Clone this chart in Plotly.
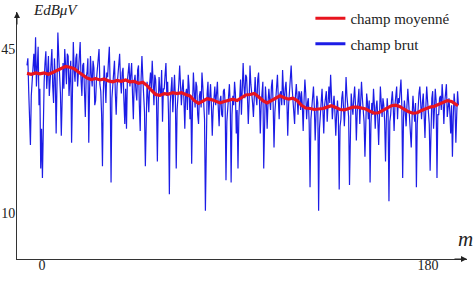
import plotly.graph_objects as go

# ---- data ----
m_start = -7.0
m_step = 0.4
champ_brut = [
    41.5, 43.0, 36.0, 30.5, 24.5, 35.0, 38.0, 41.0, 44.0, 39.5, 47.5, 37.0, 42.0, 45.5, 33.0, 36.5, 19.5, 28.0, 17.5, 34.0,
    38.0, 42.0, 44.5, 36.5, 40.0, 43.5, 35.0, 39.0, 42.5, 45.0, 37.0, 33.5, 43.0, 38.5, 27.0, 41.0, 48.5, 43.5, 40.0, 35.5,
    26.5, 39.0, 42.0, 36.5, 45.0, 41.5, 37.5, 44.0, 43.5, 35.0, 39.0, 42.5, 25.0, 38.0, 46.5, 40.5, 38.0, 43.0, 44.0, 37.0,
    41.0, 44.0, 46.5, 38.5, 35.0, 41.5, 42.0, 36.0, 30.5, 39.0, 40.0, 43.0, 25.0, 36.5, 43.5, 39.5, 37.0, 42.5, 41.0, 33.0,
    34.0, 38.5, 40.5, 43.0, 45.0, 37.5, 36.0, 31.0, 20.0, 35.5, 41.5, 38.0, 33.5, 40.0, 39.0, 42.5, 45.5, 37.0, 16.5, 34.5,
    38.0, 41.0, 42.5, 35.5, 31.0, 37.0, 39.5, 42.0, 44.0, 38.5, 35.5, 40.0, 41.0, 34.0, 29.0, 36.5, 28.0, 38.0, 40.5, 42.0,
    37.0, 40.0, 42.0, 35.5, 30.0, 38.0, 39.5, 36.0, 34.0, 40.5, 41.5, 33.0, 27.5, 38.5, 43.5, 39.0, 36.0, 31.5, 20.0, 35.0,
    38.0, 35.0, 31.5, 37.5, 40.0, 36.5, 42.5, 38.0, 33.0, 39.5, 38.5, 34.0, 21.0, 33.5, 39.0, 36.0, 35.0, 40.5, 29.5, 36.5,
    36.5, 39.5, 42.0, 35.0, 38.0, 31.0, 14.0, 33.5, 37.0, 39.0, 31.5, 36.0, 39.5, 34.5, 19.5, 32.0, 34.0, 37.5, 41.5, 35.0,
    33.0, 36.5, 38.5, 34.0, 28.0, 35.5, 36.5, 32.0, 39.5, 37.0, 30.0, 34.5, 20.5, 33.0, 40.0, 36.0, 32.5, 38.0, 37.0, 31.0,
    29.0, 35.0, 36.0, 32.5, 40.0, 37.0, 33.5, 30.0, 10.5, 31.5, 35.5, 38.0, 31.0, 34.5, 37.5, 33.0, 26.5, 32.0, 34.5, 37.0,
    33.0, 36.0, 38.0, 32.5, 28.5, 34.0, 35.0, 31.0, 30.5, 36.0, 36.5, 33.5, 17.0, 29.5, 32.0, 35.5, 37.5, 33.0, 16.5, 31.0,
    35.0, 33.0, 38.0, 35.5, 27.0, 32.0, 19.5, 30.5, 36.0, 38.5, 31.0, 36.5, 42.0, 37.0, 34.5, 39.5, 39.0, 35.0, 29.0, 34.0,
    41.5, 37.5, 36.0, 33.5, 30.5, 36.5, 39.0, 35.0, 33.0, 38.5, 40.0, 34.5, 27.0, 33.0, 35.5, 38.0, 19.5, 31.0, 37.0, 34.0,
    28.0, 33.5, 36.5, 34.0, 32.0, 37.0, 38.5, 33.0, 24.0, 31.5, 35.0, 37.5, 39.5, 34.5, 30.0, 35.5, 36.0, 33.0, 40.5, 36.0,
    33.0, 36.5, 38.0, 34.0, 26.5, 33.0, 36.0, 38.5, 41.5, 37.0, 34.0, 31.5, 29.0, 35.0, 37.5, 34.5, 31.0, 36.0, 35.5, 32.0,
    36.0, 33.0, 27.5, 34.0, 38.5, 35.5, 30.0, 33.5, 34.5, 29.0, 15.5, 30.0, 33.0, 36.0, 37.0, 32.5, 25.5, 31.0, 35.0, 33.5,
    10.5, 28.0, 31.0, 34.5, 36.5, 32.0, 27.0, 33.0, 34.5, 36.0, 29.5, 34.0, 37.0, 33.5, 39.5, 35.0, 30.0, 33.0, 35.0, 31.5,
    26.5, 31.0, 34.0, 30.5, 15.0, 28.5, 30.0, 34.5, 36.0, 32.5, 28.5, 33.0, 39.0, 35.0, 33.0, 30.5, 16.0, 29.0, 35.5, 33.0,
    31.0, 34.5, 37.0, 33.0, 25.5, 31.5, 34.5, 36.5, 29.0, 33.0, 38.0, 34.5, 32.0, 29.5, 22.0, 31.0, 35.5, 33.5, 30.0, 34.0,
    16.5, 29.0, 33.5, 31.0, 36.5, 33.0, 28.0, 32.5, 34.0, 30.0, 24.5, 31.0, 37.0, 33.5, 30.5, 34.5, 33.0, 29.5, 21.0, 30.0,
    34.5, 31.0, 12.5, 29.5, 31.0, 34.0, 36.0, 32.5, 27.5, 33.0, 35.0, 37.0, 30.0, 34.5, 33.5, 36.0, 38.5, 33.0, 17.5, 30.5,
    34.0, 31.5, 28.5, 33.0, 36.5, 33.5, 31.0, 28.0, 24.0, 30.5, 35.0, 32.0, 29.5, 33.5, 15.5, 29.0, 33.5, 35.5, 37.0, 32.0,
    30.0, 33.5, 35.5, 31.0, 26.0, 32.5, 37.0, 34.0, 32.0, 29.0, 19.0, 30.5, 34.5, 36.0, 28.0, 32.0, 36.5, 34.0, 17.5, 31.0,
    31.0, 34.5, 35.0, 32.0, 37.5, 34.5, 29.0, 33.5, 36.0, 37.5, 30.5, 34.0, 34.5, 31.5, 27.0, 33.0, 22.0, 30.5, 35.5, 33.0,
    25.0, 31.0, 36.0, 33.0,
]
m_brut = [m_start + m_step * i for i in range(len(champ_brut))]

m_moy = [-7, -5, -3, -1, 1, 3, 5, 7, 9, 11, 13, 15, 17, 19, 21, 23, 25, 27, 29, 31,
         33, 35, 37, 39, 41, 43, 45, 47, 49, 51, 53, 55, 57, 59, 61, 63, 65, 67, 69, 71,
         73, 75, 77, 79, 81, 83, 85, 87, 89, 91, 93, 95, 97, 99, 101, 103, 105, 107, 109, 111,
         113, 115, 117, 119, 121, 123, 125, 127, 129, 131, 133, 135, 137, 139, 141, 143, 145, 147, 149, 151,
         153, 155, 157, 159, 161, 163, 165, 167, 169, 171, 173, 175, 177, 179, 181, 183, 185, 187, 189, 191,
         193, 194]
champ_moyenne = [39.8, 39.6, 39.9, 39.7, 39.9, 39.6, 40.0, 40.4, 40.9, 41.3,
                 41.1, 40.8, 40.1, 39.4, 38.8, 38.5, 38.7, 38.4, 38.6, 38.2,
                 38.0, 38.3, 38.1, 38.4, 38.0, 38.1, 37.7, 37.9, 37.2, 36.2,
                 35.3, 35.1, 35.5, 35.4, 35.7, 35.5, 35.7, 35.3, 35.0, 34.0,
                 33.4, 33.9, 34.4, 34.2, 33.8, 33.5, 33.8, 34.1, 34.3, 34.0,
                 34.6, 35.2, 35.3, 35.5, 34.8, 34.0, 33.5, 34.0, 34.6, 35.0,
                 34.6, 34.3, 34.5, 34.0, 33.0, 32.4, 32.3, 32.1, 32.2, 32.3,
                 32.6, 32.9, 32.5, 32.1, 32.0, 32.3, 32.6, 32.6, 32.4, 32.2,
                 31.7, 31.3, 31.4, 31.9, 32.5, 32.9, 33.0, 32.7, 32.1, 31.6,
                 31.3, 31.4, 31.9, 32.3, 32.6, 32.8, 33.2, 33.6, 34.0, 33.8,
                 33.1, 32.9]

x_ticks = [0, 180]
x_tick_labels = ["0", "180"]
y_ticks = [10, 45]
y_tick_labels = ["10", "45"]

BLUE = "#1c1ce6"
RED = "#e8141e"
SERIF = "Liberation Serif"

fig = go.Figure()
fig.add_trace(go.Scatter(x=m_brut, y=champ_brut, mode="lines",
                         line=dict(color=BLUE, width=1.2), showlegend=False,
                         hoverinfo="skip"))
fig.add_trace(go.Scatter(x=m_moy, y=champ_moyenne, mode="lines",
                         line=dict(color=RED, width=3.2),
                         showlegend=False, hoverinfo="skip"))
# legend entries (thick sample lines)
fig.add_trace(go.Scatter(x=[None], y=[None], mode="lines", name="champ moyenné",
                         legendgroup="a", line=dict(color=RED, width=3)))
fig.add_trace(go.Scatter(x=[None], y=[None], mode="lines", name="champ brut",
                         legendgroup="b", line=dict(color=BLUE, width=3)))

fig.update_layout(
    width=475, height=285,
    margin=dict(l=17, r=8, t=12, b=26, autoexpand=False),
    paper_bgcolor="white", plot_bgcolor="white",
    font=dict(family=SERIF, size=14, color="#222"),
    showlegend=True,
    legend=dict(x=0.652, y=1.04, xanchor="left", yanchor="top",
                bgcolor="rgba(0,0,0,0)", font=dict(family=SERIF, size=15, color="#222"),
                tracegroupgap=3),
    xaxis=dict(range=[-11.66, 198.2], showgrid=False, zeroline=False,
               showline=True, linecolor="#333", linewidth=1,
               tickmode="array", tickvals=x_ticks, ticktext=x_tick_labels,
               ticks="", ticklabelstandoff=-7,
               tickfont=dict(family=SERIF, size=14, color="#222"),
               automargin=False),
    yaxis=dict(range=[0.19, 52.9], showgrid=False, zeroline=False,
               showline=True, linecolor="#333", linewidth=1,
               tickmode="array", tickvals=y_ticks, ticktext=y_tick_labels,
               ticks="", ticklabelstandoff=-2,
               tickfont=dict(family=SERIF, size=14, color="#222"),
               automargin=False),
    annotations=[
        dict(xref="paper", yref="paper", x=0, y=1, ax=0, ay=14,
             showarrow=True, arrowhead=2, arrowsize=1.2, arrowwidth=1, arrowcolor="#222", text=""),
        dict(xref="paper", yref="paper", x=1, y=0, ax=-14, ay=0,
             showarrow=True, arrowhead=2, arrowsize=1.2, arrowwidth=1, arrowcolor="#222", text=""),
        dict(xref="paper", yref="paper", x=(31 - 17) / 450, y=1 + 2 / 247, xanchor="left", yanchor="middle",
             text="<i>EdBμV</i>", showarrow=False, font=dict(family=SERIF, size=15, color="#222")),
        dict(xref="paper", yref="paper", x=1 + 8 / 450, y=(259 - 239) / 247, xanchor="right", yanchor="middle",
             text="<i>m</i>", showarrow=False, font=dict(family=SERIF, size=21, color="#222")),
    ],
)

fig.write_html("out.html")
